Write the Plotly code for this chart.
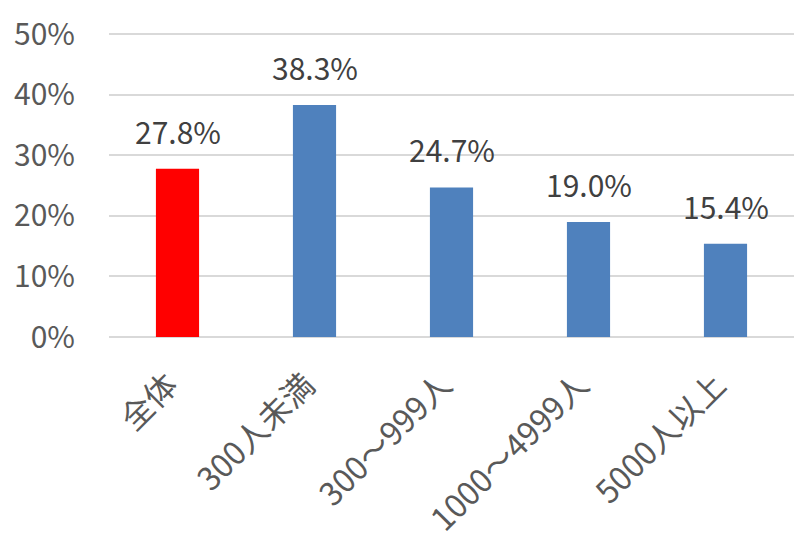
import plotly.graph_objects as go

categories = ['全体', '300人未満', '300～999人', '1000～4999人', '5000人以上']
values = [27.8, 38.3, 24.7, 19.0, 15.4]
bar_colors = ['#FF0000', '#4F81BD', '#4F81BD', '#4F81BD', '#4F81BD']
y_ticks = [0, 10, 20, 30, 40, 50]

FONT = 'Noto Sans CJK JP'

fig = go.Figure(go.Bar(
    x=categories, y=values,
    marker=dict(color=bar_colors, line=dict(width=0)),
    width=0.315,
))

# 値ラベル（棒の上に少し離して配置）
for c, v in zip(categories, values):
    fig.add_annotation(
        x=c, y=v, text=f'{v:.1f}%', showarrow=False,
        yanchor='bottom', yshift=14,
        font=dict(family=FONT, size=30, color='#404040'),
    )

# ページの body margin (8px) 分をずらして配置
fig.update_layout(
    width=811, height=550,
    paper_bgcolor='white', plot_bgcolor='white',
    showlegend=False,
    margin=dict(l=101, r=25, t=25, b=221),
    font=dict(family=FONT, color='#595959'),
    xaxis=dict(
        tickangle=-45, tickfont=dict(size=32, color='#595959'),
        showgrid=False, showline=False, ticks='',
        ticklabelstandoff=22, ticklabelshift=-9, automargin=False,
    ),
    yaxis=dict(
        range=[0, 50.2], tickvals=y_ticks, ticktext=[f'{t}%' for t in y_ticks],
        tickfont=dict(size=30, color='#595959'),
        showgrid=True, gridcolor='#D9D9D9', gridwidth=1.5,
        zeroline=True, zerolinecolor='#D9D9D9', zerolinewidth=1.5,
        ticks='', ticklabelstandoff=33, automargin=False,
    ),
)

fig.write_html('out.html')
